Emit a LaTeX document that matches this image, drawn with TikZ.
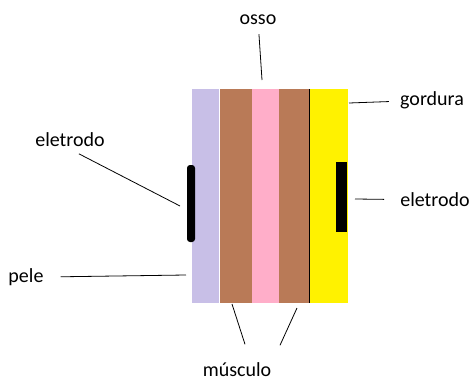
\documentclass[tikz,border=0pt]{standalone}
\usepackage{fontspec}
\setmainfont{Carlito}
\usetikzlibrary{positioning}

\definecolor{lavanda}{RGB}{200,191,231}
\definecolor{marrom}{RGB}{185,122,87}
\definecolor{rosa}{RGB}{255,174,201}
\definecolor{amarelo}{RGB}{255,242,0}

\begin{document}
\begin{tikzpicture}[x=1pt,y=-1pt]
    \tikzstyle{layer} = [rectangle, draw=none, inner sep=0pt,
        minimum height=214pt]
    \tikzstyle{electrode} = [rectangle, fill=black, inner sep=0pt]
    \tikzstyle{label} = [font=\fontsize{20}{24}\selectfont, inner sep=2pt]
    \tikzstyle{line} = [draw, line width=0.8pt]

    \useasboundingbox (0,0) rectangle (472,380);

    % Tissue layers, left to right
    \node[layer, fill=lavanda, minimum width=27pt, anchor=north west]
        (skin) at (192,89) {};
    \node[layer, fill=marrom, minimum width=32pt, right=0pt of skin] (muscA) {};
    \node[layer, fill=rosa, minimum width=27pt, right=0pt of muscA] (bone) {};
    \node[layer, fill=marrom, minimum width=29.5pt, right=0pt of bone] (muscB) {};
    \node[layer, fill=amarelo, minimum width=38.5pt, right=0pt of muscB] (fat) {};
    \draw[line] (muscB.north east) -- (muscB.south east);

    % Electrodes
    \node[electrode, rounded corners=3pt, minimum width=8pt,
        minimum height=77pt] (elecA) at (191,203.5) {};
    \node[electrode, minimum width=11pt, minimum height=70pt]
        (elecB) at (341.5,197) {};

    % Labels
    \node[label] (osso) at (258,20) {osso};
    \node[label] (gordura) at (432,100) {gordura};
    \node[label] (eletrodoB) at (435,200) {eletrodo};
    \node[label] (eletrodoA) at (70,140) {eletrodo};
    \node[label] (pele) at (26,277) {pele};
    \node[label, inner sep=0pt] (musculo) at (237,369.5) {músculo};

    % Pointer ends
    \coordinate (ossoTip) at (262,80);
    \coordinate (gorduraTip) at (349,103);
    \coordinate (eletrodoBTip) at (355,199);
    \coordinate (eletrodoATip) at (180,206);
    \coordinate (peleTip) at (186,275);
    \coordinate (muscATip) at (232,304);
    \coordinate (muscBTip) at (297,308);

    \draw[line, shorten <=7pt] (osso) -- (ossoTip);
    \draw[line, shorten <=9pt] (gordura) -- (gorduraTip);
    \draw[line, shorten <=14pt] (eletrodoB) -- (eletrodoBTip);
    \draw[line, shorten <=10pt] (eletrodoA.south) -- (eletrodoATip);
    \draw[line, shorten <=15pt] (pele.east) -- (peleTip);
    \draw[line] ([xshift=8pt,yshift=18pt]musculo.north) -- (muscATip);
    \draw[line] ([xshift=43pt,yshift=17pt]musculo.north) -- (muscBTip);
\end{tikzpicture}
\end{document}
